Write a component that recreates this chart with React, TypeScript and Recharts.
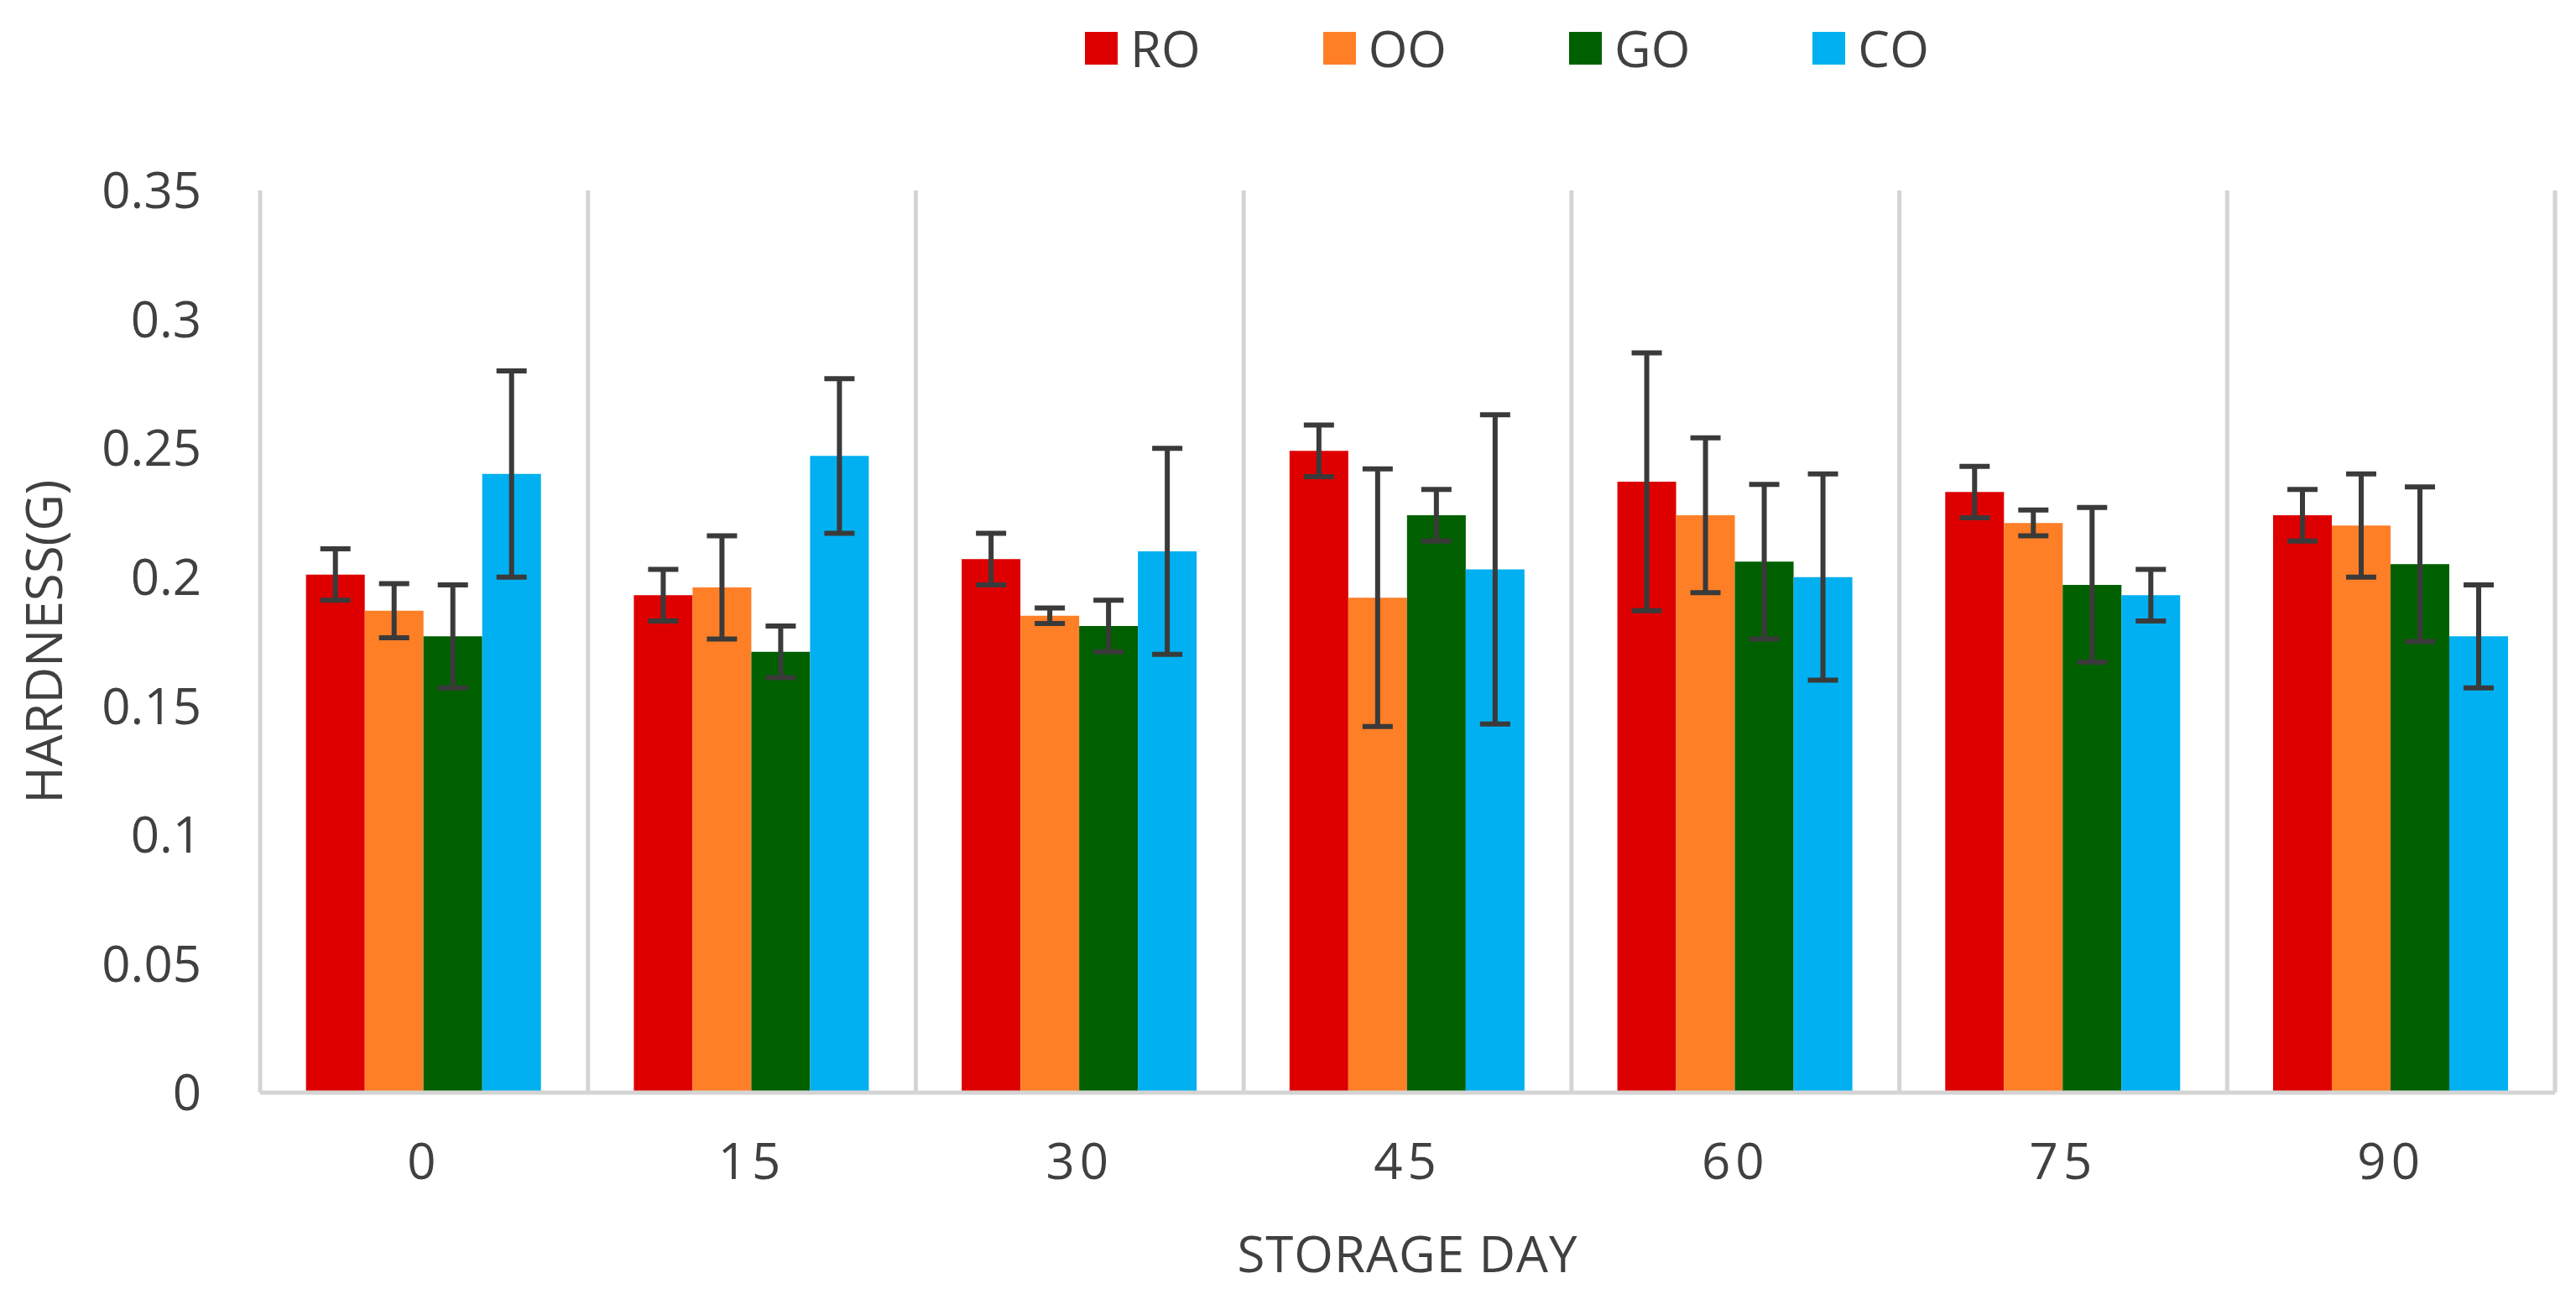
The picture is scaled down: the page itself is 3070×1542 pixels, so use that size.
import React from 'react';
import { BarChart, Bar, XAxis, YAxis, CartesianGrid, Legend, ErrorBar } from 'recharts';

const days = ['0', '15', '30', '45', '60', '75', '90'];
const seriesNames = ['RO', 'OO', 'GO', 'CO'];
const seriesColors = ['#DE0000', '#FF7F27', '#006000', '#00B0F0'];

const roValues = [0.201, 0.193, 0.207, 0.249, 0.237, 0.233, 0.224];
const roErrors = [0.01, 0.01, 0.01, 0.01, 0.05, 0.01, 0.01];
const ooValues = [0.187, 0.196, 0.185, 0.192, 0.224, 0.221, 0.22];
const ooErrors = [0.0105, 0.02, 0.003, 0.05, 0.03, 0.005, 0.02];
const goValues = [0.177, 0.171, 0.181, 0.224, 0.206, 0.197, 0.205];
const goErrors = [0.02, 0.01, 0.01, 0.01, 0.03, 0.03, 0.03];
const coValues = [0.24, 0.247, 0.21, 0.203, 0.2, 0.193, 0.177];
const coErrors = [0.04, 0.03, 0.04, 0.06, 0.04, 0.01, 0.02];

const yTicks = [0, 0.05, 0.1, 0.15, 0.2, 0.25, 0.3, 0.35];

const values = [roValues, ooValues, goValues, coValues];
const errors = [roErrors, ooErrors, goErrors, coErrors];

const data = days.map((d, i) => {
  const row: Record<string, string | number> = { day: d };
  seriesNames.forEach((s, k) => {
    row[s] = values[k][i];
    row[s + 'err'] = errors[k][i];
  });
  return row;
});

const FONT = "'Open Sans', sans-serif";
const TEXT = '#404040';
const GRID = '#D4D4D4';

const renderLegend = (props: any) => {
  const payload = [...(props.payload || [])].sort(
    (a: any, b: any) => seriesNames.indexOf(a.value) - seriesNames.indexOf(b.value)
  );
  return (
    <div style={{ display: 'flex', alignItems: 'center', gap: 146, fontFamily: FONT }}>
      {payload.map((entry: any) => (
        <div key={entry.value} style={{ display: 'flex', alignItems: 'center' }}>
          <span style={{ display: 'inline-block', width: 39, height: 39, background: entry.color, marginRight: 15 }} />
          <span style={{ fontSize: 60, lineHeight: '60px', color: TEXT }}>{entry.value}</span>
        </div>
      ))}
    </div>
  );
};

const YTitle = (props: any) => {
  const vb = props.viewBox || {};
  const cx = 43;
  const cy = vb.y + vb.height / 2;
  return (
    <text
      x={cx}
      y={cy}
      transform={`rotate(-90, ${cx}, ${cy})`}
      textAnchor="middle"
      dominantBaseline="central"
      fontSize={60}
      fontFamily={FONT}
      fill={TEXT}
    >
      HARDNESS(G)
    </text>
  );
};

const XTitle = (props: any) => {
  const vb = props.viewBox || {};
  const cx = vb.x + vb.width / 2;
  return (
    <text
      x={cx}
      y={1485}
      textAnchor="middle"
      dominantBaseline="central"
      fontSize={60}
      fontFamily={FONT}
      fill={TEXT}
      letterSpacing={1}
    >
      STORAGE DAY
    </text>
  );
};

const W = 3054;
const H = 1526;

export default function App() {
  return (
    <div style={{ width: W, height: H, fontFamily: FONT, background: '#fff' }}>
      <BarChart
        width={W}
        height={H}
        data={data}
        margin={{ top: 219, right: 17, left: 0, bottom: 0 }}
        barCategoryGap="14%"
        barGap={0}
      >
        <CartesianGrid
          horizontal={false}
          stroke={GRID}
          strokeWidth={5}
          verticalCoordinatesGenerator={({ offset }: any) =>
            Array.from({ length: days.length + 1 }, (_, i) => offset.left + (i * offset.width) / days.length)
          }
        />
        <XAxis
          dataKey="day"
          height={232}
          axisLine={{ stroke: GRID, strokeWidth: 5 }}
          tickLine={false}
          tickSize={0}
          tickMargin={60}
          tick={{ fontSize: 60, fill: TEXT, fontFamily: FONT, letterSpacing: 6 }}
          label={<XTitle />}
        />
        <YAxis
          width={302}
          domain={[0, 0.35]}
          ticks={yTicks}
          axisLine={false}
          tickLine={false}
          tickSize={0}
          tickMargin={70}
          tick={{ fontSize: 60, fill: TEXT, fontFamily: FONT }}
          label={<YTitle />}
        />
        <Legend
          layout="horizontal"
          verticalAlign="middle"
          align="center"
          wrapperStyle={{ top: 19, left: 1285, width: 1200, height: 60 }}
          content={renderLegend}
        />
        {seriesNames.map((s, k) => (
          <Bar key={s} dataKey={s} name={s} fill={seriesColors[k]} isAnimationActive={false}>
            <ErrorBar dataKey={s + 'err'} width={18} strokeWidth={6} stroke="#3A3A3A" isAnimationActive={false} />
          </Bar>
        ))}
      </BarChart>
    </div>
  );
}
